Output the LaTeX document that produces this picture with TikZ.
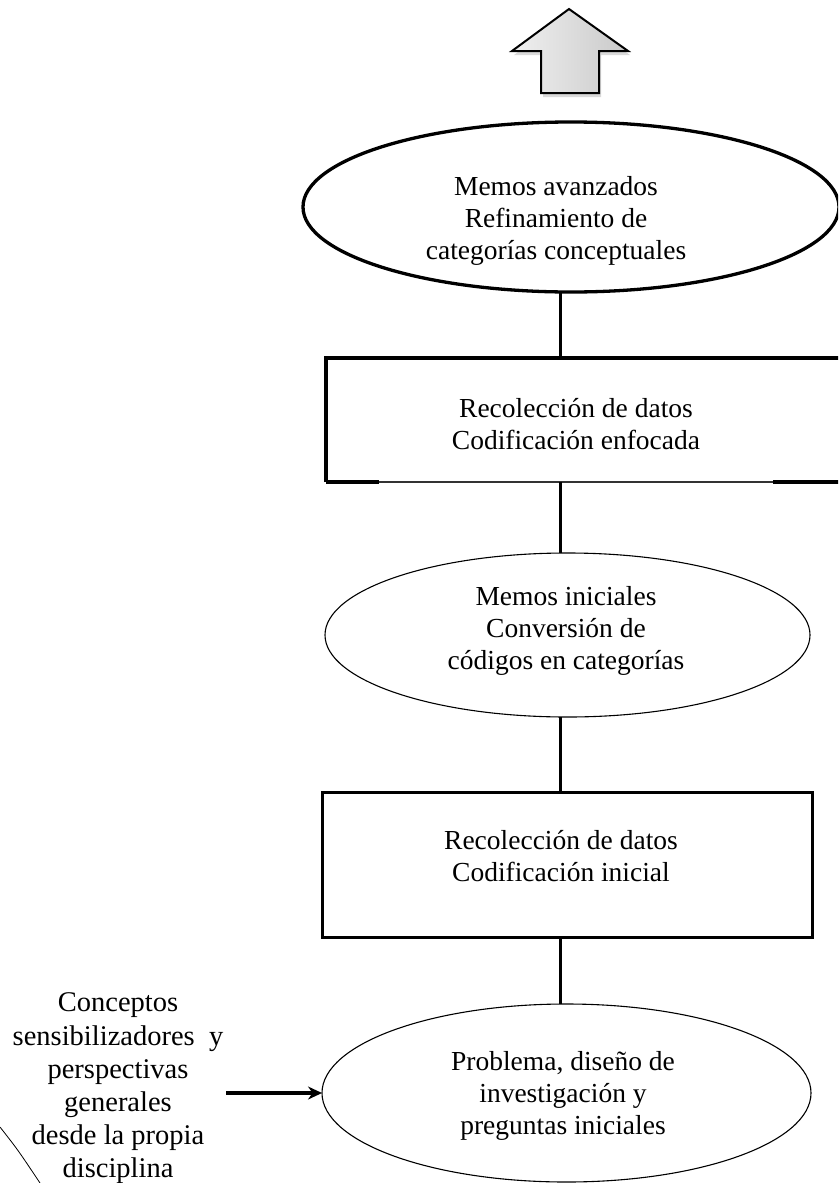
\documentclass[tikz,border=0pt]{standalone}
\usepackage{fontspec}
\setmainfont{Liberation Serif}
\usetikzlibrary{shapes.geometric,arrows.meta,shadows}
\begin{document}
\begin{tikzpicture}[x=1pt,y=-1pt,
  lbl/.style={align=center,inner sep=0pt,font=\fontsize{27.5}{32}\selectfont},
  shapebox/.style={inner sep=0pt,outer sep=0pt},
  oval/.style={shapebox,ellipse},
  heavy/.style={line width=3.3pt},
  light/.style={line width=1.1pt},
  conn/.style={line width=3pt},
]
\useasboundingbox (0,0) rectangle (838,1183);
\clip (0,0) rectangle (838,1183);

% upward block arrow
\path[draw=black, line width=2pt, line join=miter,
      left color=gray!12, right color=gray!42,
      drop shadow={shadow xshift=2pt, shadow yshift=-4pt, opacity=0.3}]
  (569,9) -- (628,51) -- (599,51) -- (599,93) -- (541,93) -- (541,51) -- (512,51) -- cycle;

% vertical spine of the flow
\coordinate (spine) at (560,0);

% stage shapes
\node[oval, draw, heavy, minimum width=536pt, minimum height=170pt] (e1) at (571,207) {};
\node[shapebox, minimum width=530pt, minimum height=124pt] (r2) at (591,420) {};
\node[oval, draw, light, minimum width=485pt, minimum height=164pt] (e3) at (567.5,635) {};
\node[shapebox, draw, line width=3pt, minimum width=490pt, minimum height=145pt] (r4) at (567,864.5) {};
\node[oval, draw, light, minimum width=489pt, minimum height=178pt] (e5) at (566.5,1093) {};

% open frame of the second box
\draw[heavy, line join=miter] (r2.south west) -- (r2.north west) -- (r2.north east);
\draw[heavy] (r2.south west) -- (379,482);
\draw[light, black!80] (379,482) -- (773,482);
\draw[heavy] (773,482) -- (r2.south east);

% stage texts
\node[lbl] (t1) at (556,220.5) {Memos avanzados\\Refinamiento de\\categorías conceptuales};
\node[lbl] (t2) at (576,424.5) {Recolección de datos\\Codificación enfocada};
\node[lbl] (t3) at (566,631) {Memos iniciales\\Conversión de\\códigos en categorías};
\node[lbl] (t4) at (561,856.5) {Recolección de datos\\Codificación inicial};
\node[lbl] (t5) at (563,1096) {Problema, diseño de\\investigación y\\preguntas iniciales};

% side input
\node[lbl, font=\fontsize{28.5}{33.2}\selectfont] (src) at (118,1088.5)
  {Conceptos\\sensibilizadores\ \ y\\perspectivas\\generales\\desde la propia\\disciplina};

% connectors
\draw[conn] (spine |- e1.south) -- (spine |- r2.north);
\draw[conn] (spine |- r2.south) -- (spine |- e3.north);
\draw[conn] (spine |- e3.south) -- (spine |- r4.north);
\draw[conn] (spine |- r4.south) -- (spine |- e5.north);
\draw[line width=4pt, shorten <=3pt, -{Stealth[length=14pt,width=13pt]}] (src.east |- e5.west) -- (e5.west);

% edge of an outer ring
\draw[line width=0.8pt] (0,1127) .. controls (18,1150) .. (40,1183);
\end{tikzpicture}
\end{document}
